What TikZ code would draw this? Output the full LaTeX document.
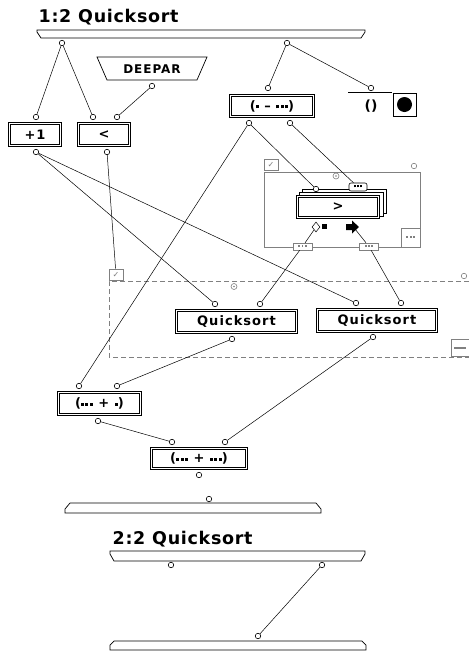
\documentclass[tikz,border=0pt]{standalone}
\usepackage{fontspec}
\setsansfont{DejaVu Sans}
\newfontfamily\opfont{DejaVu Sans}[LetterSpace=8]
\newfontfamily\titlefont{DejaVu Sans}[LetterSpace=4]
\usetikzlibrary{shapes.geometric}

\newcommand{\blip}[1][3pt]{\rule[0.25ex]{#1}{#1}}
\newcommand{\blips}[1][3pt]{\blip[#1]\kern1.4pt\blip[#1]\kern1.4pt\blip[#1]}

\begin{document}
\begin{tikzpicture}[x=1pt,y=-1pt,line width=0.7pt,
    term/.style={circle,draw,fill=white,inner sep=0pt,minimum size=5.5pt,line width=0.6pt},
    op/.style={draw,line width=0.8pt,double=white,double distance=1.2pt,fill=white,
               inner sep=0pt,font=\opfont\bfseries\fontsize{13}{13}\selectfont},
    wire/.style={line width=0.5pt},
    frame/.style={draw=gray,line width=0.6pt,fill=white,inner sep=0pt},
    gterm/.style={term,draw=gray},
    tick/.style={frame,minimum width=14,minimum height=11,font=\sffamily\fontsize{8}{8}\selectfont\color{gray}},
    bar/.style={draw,line width=0.7pt,fill=white},
    title/.style={anchor=base west,font=\titlefont\bfseries\fontsize{17.5}{17.5}\selectfont}]
  \useasboundingbox (0,0) rectangle (469,654);

  % case 1
  \node[title] (head1) at (35,22) {1:2 Quicksort};
  \draw[bar] (37,30) -- (365,30) -- (365,32) -- (361,38) -- (41,38) -- (37,32) -- cycle;

  % loop frame round >
  \draw[gray,line width=0.6pt] (264,172) rectangle (420,247);
  \node[tick] (lpchk) at (271,164.5) {✓};
  \node[gterm] (lpend) at (414,166) {};
  \node[gterm,minimum size=6pt] (lpdot) at (336,176) {};
  \fill[gray] (lpdot.center) circle (0.9);
  \node[frame,minimum size=19] (lpmore) at (410.5,237.5) {\color{gray}\blips[2pt]};
  \node[frame,minimum width=19,minimum height=7] (portL) at (302.5,246.5) {\color{gray}\blips[1.8pt]};
  \node[frame,minimum width=19,minimum height=7] (portR) at (369,246.5) {\color{gray}\blips[1.8pt]};

  % dashed frame round the two calls
  \draw[gray,line width=0.6pt,dash pattern=on 5pt off 3pt] (469,281) -- (109,281) -- (109,357) -- (469,357);
  \node[tick] (dchk) at (116,274.5) {✓};
  \node[gterm] (dend) at (464,276) {};
  \node[gterm,minimum size=6pt] (ddot) at (234,286.5) {};
  \fill[gray] (ddot.center) circle (0.9);
  \node[frame,minimum width=20,minimum height=17] (dmin) at (461,348) {};
  \draw[gray,line width=1.5pt] (454,348) -- (466,348);

  % operations
  \draw[fill=white] (97,57) -- (207,57) -- (197,80) -- (107,80) -- cycle;
  \node[font=\opfont\bfseries\fontsize{12}{12}\selectfont] (deepar) at (152,69) {DEEPAR};
  \node[op,minimum width=51,minimum height=22] (plus1) at (35,134.5) {+1};
  \node[op,minimum width=51,minimum height=22] (less) at (104,134.5) {<};
  \node[op,minimum width=83,minimum height=21] (sub) at (272,106) {(\blip\ – \blips)};
  \draw (348,92) -- (392,92);
  \node[font=\sffamily\bfseries\fontsize{14}{14}\selectfont] (nil) at (371,106) {()};
  \node[draw,line width=0.6pt,minimum width=23,minimum height=23] (nilbox) at (404.5,104.5) {};
  \fill (nilbox.center) circle (7.5);

  \draw[fill=white] (302,189) rectangle (386,213);
  \draw[fill=white] (299,192) rectangle (383,216);
  \node[op,minimum width=81,minimum height=21] (gt) at (338,207) {>};
  \node[diamond,draw,fill=white,inner sep=0pt,minimum width=8,minimum height=10,line width=0.5pt] (ctlL) at (316,227) {};
  \fill (322,223.5) rectangle (327,228.5);
  \fill (346,224) -- (352,224) -- (352,220.5) -- (359,227) -- (352,233.5) -- (352,230) -- (346,230) -- cycle;
  \coordinate (ctlR) at (355,229);

  \node[op,minimum width=120,minimum height=22] (qsl) at (236.5,321.5) {Quicksort};
  \node[op,minimum width=119,minimum height=22] (qsr) at (377,320.5) {Quicksort};
  \node[op,minimum width=82,minimum height=22] (joinA) at (99.5,403.5) {(\blips\ + \blip)};
  \node[op,minimum width=95,minimum height=20] (joinB) at (199,458.5) {(\blips\ + \blips)};

  \draw[bar] (70,503) -- (316,503) -- (321,509) -- (321,513) -- (65,513) -- (65,509) -- cycle;

  % terminals
  \node[term] (root1) at (62,43) {};
  \node[term] (root2) at (287,43) {};
  \node[term] (deout) at (152,86) {};
  \node[term] (p1in) at (36,117) {};
  \node[term] (p1out) at (36,152) {};
  \node[term] (ltin1) at (93,117) {};
  \node[term] (ltin2) at (117,117) {};
  \node[term] (ltout) at (107,152) {};
  \node[term] (subin) at (268,88) {};
  \node[term] (subout1) at (249,123) {};
  \node[term] (subout2) at (290,123) {};
  \node[term] (nilin) at (371,88) {};
  \node[term] (gtin) at (316,189) {};
  \node[draw,fill=white,rounded corners=2pt,inner sep=0pt,minimum width=18,minimum height=8,line width=0.6pt] (gtlist) at (358,187) {\blips[2pt]};
  \node[term] (qslin1) at (215,304) {};
  \node[term] (qslin2) at (260,304) {};
  \node[term] (qslout) at (232,339) {};
  \node[term] (qsrin1) at (356,303) {};
  \node[term] (qsrin2) at (401,303) {};
  \node[term] (qsrout) at (373,337) {};
  \node[term] (jain1) at (79,386) {};
  \node[term] (jain2) at (117,386) {};
  \node[term] (jaout) at (98,421) {};
  \node[term] (jbin1) at (172,442) {};
  \node[term] (jbin2) at (225,442) {};
  \node[term] (jbout) at (199,475) {};
  \node[term] (outin) at (209,499) {};

  % wires
  \draw[wire] (root1) -- (p1in);
  \draw[wire] (root1) -- (ltin1);
  \draw[wire] (deout) -- (ltin2);
  \draw[wire] (root2) -- (subin);
  \draw[wire] (root2) -- (nilin);
  \draw[wire] (p1out) -- (qslin1);
  \draw[wire] (p1out) -- (qsrin1);
  \draw[wire] (ltout) -- (dchk);
  \draw[wire] (subout1) -- (jain1);
  \draw[wire] (subout1) -- (gtin);
  \draw[wire] (subout2) -- (gtlist);
  \draw[wire] (ctlL) -- (portL) -- (qslin2);
  \draw[wire] (ctlR) -- (portR) -- (qsrin2);
  \draw[wire] (qslout) -- (jain2);
  \draw[wire] (qsrout) -- (jbin2);
  \draw[wire] (jaout) -- (jbin1);

  % case 2
  \node[title] (head2) at (109,544) {2:2 Quicksort};
  \draw[bar] (110,551) -- (365,551) -- (365,554) -- (361,561) -- (114,561) -- (110,554) -- cycle;
  \draw[bar] (114,641) -- (362,641) -- (366,645) -- (366,650) -- (110,650) -- (110,645) -- cycle;
  \node[term] (r2a) at (171,565) {};
  \node[term] (r2b) at (322,565) {};
  \node[term] (out2in) at (258,636) {};
  \draw[wire] (r2b) -- (out2in);
\end{tikzpicture}
\end{document}
